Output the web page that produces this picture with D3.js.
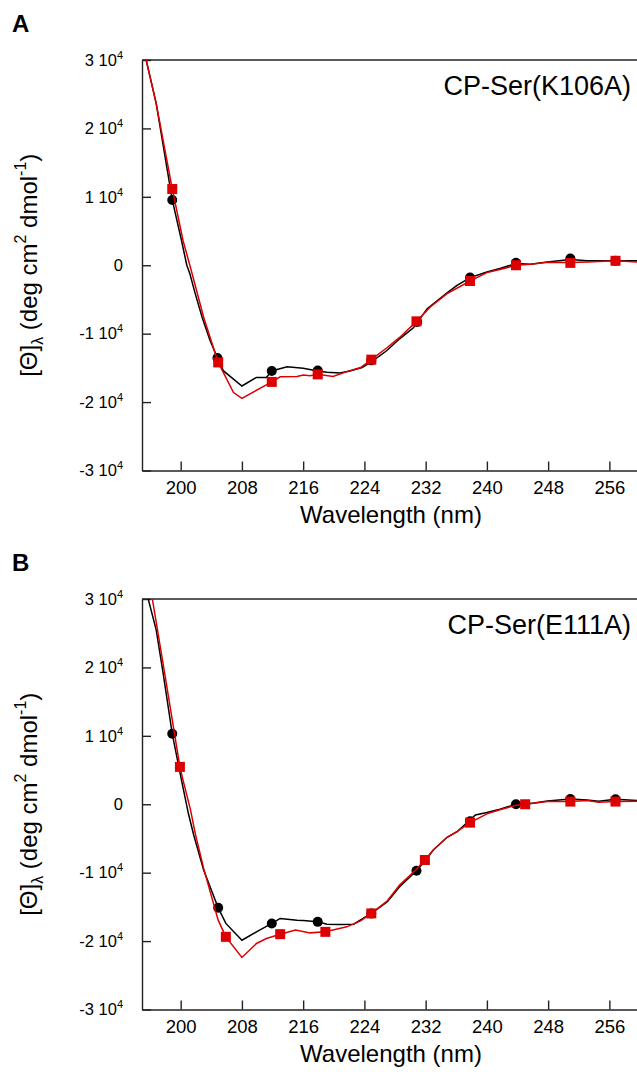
<!DOCTYPE html>
<html lang="en">
<head>
<meta charset="UTF-8">
<title>CD spectra</title>
<script src="https://d3js.org/d3.v7.min.js"></script>
<style>
  body { margin: 0; background: #fff; }
  svg text { font-family: Arial, "Liberation Sans", Helvetica, sans-serif; }
</style>
</head>
<body>
<div id="chart"></div>
<script>
// tick values
const xTicks = [200, 208, 216, 224, 232, 240, 248, 256];
const yTicks = [30000, 20000, 10000, 0, -10000, -20000, -30000];

// panel A, CP-Ser(K106A): [wavelength nm, theta]
const aBlack = [[195, 32400], [196.8, 23650], [198.9, 9550], [200.1, 3650], [200.8, 0], [201.2, -1250],
  [201.9, -4150], [202.8, -7600], [203.8, -10900], [204.8, -13550], [205.6, -15450], [208, -17650],
  [209.9, -16400], [211.2, -16400], [211.9, -15450], [213.9, -14850], [216, -15050], [217.9, -15450],
  [219.1, -15650], [220.8, -15750], [222.1, -15450], [223.7, -14950], [225, -14050], [226.9, -12500],
  [228.6, -10750], [230.4, -9150], [232.2, -6350], [234.8, -4050], [236.1, -2950], [237.8, -1800],
  [240, -980], [241.7, -480], [243.8, 250], [245.7, 150], [247.9, 490], [250.9, 840], [253.1, 640],
  [257, 640], [260, 640]];
const aRed = [[195, 32400], [196.8, 23650], [198.9, 11150], [200.3, 3650], [201.4, -850], [203, -7600],
  [204.9, -14200], [205.9, -16400], [206.9, -18600], [208, -19450], [211.9, -17050], [213, -16300],
  [215.2, -16250], [216, -16050], [216.9, -16150], [217.9, -15950], [219.9, -16250], [221.7, -15550],
  [223.5, -14950], [224.9, -13800], [226.9, -12100], [228.6, -10550], [230.8, -8200], [232.6, -6100],
  [234.8, -4150], [237.8, -2300], [240, -1080], [241.7, -630], [243.8, 0], [245.7, 150], [247.9, 450],
  [250.9, 400], [253.1, 490], [256.8, 640], [260, 440]];
const aBlackMarks = [[198.9, 9550], [204.8, -13550], [211.9, -15450], [217.9, -15400], [224.9, -13900],
  [230.9, -8300], [237.8, -1800], [243.8, 350], [250.9, 980], [256.8, 650]];
const aRedMarks = [[198.9, 11150], [204.9, -14200], [211.9, -17050], [217.9, -15950], [224.9, -13800],
  [230.8, -8200], [237.8, -2300], [243.8, 0], [250.9, 350], [256.8, 650]];

// panel B, CP-Ser(E111A)
const bBlack = [[195, 33300], [196.8, 25500], [197.7, 19200], [198.9, 10300], [200.1, 3560], [201, -1320],
  [201.7, -4500], [203, -9620], [204.9, -15140], [205.9, -17420], [208, -19870], [209.9, -18650],
  [211.9, -17420], [213, -16690], [215.2, -16940], [216, -17000], [217.9, -17190], [219.1, -17530],
  [220.8, -17570], [222.6, -17530], [224.3, -16350], [224.9, -15960], [227, -14260], [228.6, -12060],
  [230.8, -9720], [231.9, -8300], [233, -6690], [234.8, -4830], [236.1, -4010], [238.5, -1570],
  [240, -1200], [241.7, -730], [243.8, 0], [245.5, 80], [247.9, 490], [250.9, 780], [253.1, 630],
  [254.6, 450], [256.8, 730], [260, 540]];
const bRed = [[195, 37400], [196.3, 30000], [197.9, 19200], [199.9, 5460], [200.3, 3560], [201.3, -900],
  [201.9, -4250], [203, -9380], [204.9, -16940], [205.9, -19380], [208, -22400], [209.9, -20350],
  [211.2, -19620], [213, -18990], [215, -18400], [216.9, -18800], [218.9, -18650], [221.7, -17920],
  [223.5, -17050], [224.9, -15960], [227, -14100], [228.6, -11800], [230.8, -9500], [231.9, -8150],
  [233, -6690], [234.8, -4830], [236.1, -4010], [237.8, -2690], [240, -1400], [241.7, -800],
  [243.8, -150], [245, 0], [247.9, 400], [250.9, 390], [253.1, 560], [254.6, 300], [256.8, 390], [260, 450]];
const bBlackMarks = [[198.9, 10300], [204.9, -15140], [211.9, -17420], [217.9, -17190], [224.9, -15960],
  [230.8, -9720], [237.8, -2500], [243.8, 0], [250.9, 780], [256.8, 730]];
const bRedMarks = [[199.9, 5460], [205.9, -19380], [213, -18990], [218.9, -18650], [224.9, -15960],
  [231.9, -8150], [237.8, -2690], [245, 0], [250.9, 390], [256.8, 390]];

const panels = [
  { letter: "A", title: "CP-Ser(K106A)", top: 60, black: aBlack, red: aRed, blackMarks: aBlackMarks, redMarks: aRedMarks },
  { letter: "B", title: "CP-Ser(E111A)", top: 599, black: bBlack, red: bRed, blackMarks: bBlackMarks, redMarks: bRedMarks }
];

const W = 637, H = 1072;
const left = 142, plotH = 410.5;
const RED = "#dd0000";
const AXIS = "#222";

const svg = d3.select("#chart").append("svg")
  .attr("width", W)
  .attr("height", H);

const x = d3.scaleLinear().domain([195, 260]).range([142.4, 640]);
const y = d3.scaleLinear().domain([-30000, 30000]).range([plotH, 0]);

const line = d3.line()
  .x(d => x(d[0]))
  .y(d => y(d[1]));

panels.forEach((p, i) => {
  svg.append("text")
    .attr("x", 12)
    .attr("y", p.top - 28)
    .attr("font-size", 24)
    .attr("font-weight", "bold")
    .text(p.letter);

  const g = svg.append("g").attr("transform", `translate(0,${p.top})`);

  g.append("clipPath").attr("id", "clip" + i)
    .append("rect")
    .attr("x", left).attr("y", 0)
    .attr("width", W - left).attr("height", plotH);

  // frame top
  g.append("line")
    .attr("x1", left).attr("x2", W)
    .attr("y1", 0).attr("y2", 0)
    .attr("stroke", AXIS).attr("stroke-width", 1.4);

  // y axis
  const ya = g.append("g")
    .attr("transform", `translate(${left},0)`)
    .call(d3.axisLeft(y).tickValues(yTicks).tickSize(-9).tickSizeOuter(0).tickPadding(19).tickFormat(""))
    .attr("font-size", 16.5)
    .attr("font-family", null);
  ya.selectAll(".tick text").each(function (d) {
    const t = d3.select(this);
    if (d === 0) { t.text("0"); return; }
    t.append("tspan").text(`${d / 10000} 10`);
    t.append("tspan").attr("dy", -7).attr("font-size", 11).text("4");
  });

  // x axis
  g.append("g")
    .attr("transform", `translate(0,${plotH})`)
    .call(d3.axisBottom(x).tickValues(xTicks).tickSize(-9).tickSizeOuter(0).tickPadding(10.5))
    .attr("font-size", 18.5)
    .attr("font-family", null);

  g.selectAll(".domain, .tick line").attr("stroke", AXIS).attr("stroke-width", 1.4);

  const plot = g.append("g").attr("clip-path", `url(#clip${i})`);

  plot.append("path").datum(p.black)
    .attr("fill", "none").attr("stroke", "#000").attr("stroke-width", 1.5)
    .attr("d", line);
  plot.selectAll(".dot").data(p.blackMarks).join("circle")
    .attr("class", "dot")
    .attr("cx", d => x(d[0])).attr("cy", d => y(d[1]))
    .attr("r", 5).attr("fill", "#000");

  plot.append("path").datum(p.red)
    .attr("fill", "none").attr("stroke", RED).attr("stroke-width", 1.5)
    .attr("d", line);
  plot.selectAll(".sq").data(p.redMarks).join("rect")
    .attr("class", "sq")
    .attr("x", d => x(d[0]) - 5).attr("y", d => y(d[1]) - 5)
    .attr("width", 10).attr("height", 10).attr("fill", RED);

  g.append("text")
    .attr("x", 631).attr("y", 35)
    .attr("text-anchor", "end")
    .attr("font-size", 27)
    .text(p.title);

  g.append("text")
    .attr("x", 391).attr("y", plotH + 52)
    .attr("text-anchor", "middle")
    .attr("font-size", 24)
    .text("Wavelength (nm)");

  const yl = g.append("text")
    .attr("transform", `translate(37,${plotH / 2}) rotate(-90)`)
    .attr("text-anchor", "middle")
    .attr("font-size", 24);
  yl.append("tspan").text("[Θ]");
  yl.append("tspan").attr("dy", 6).attr("font-size", 16).text("λ");
  yl.append("tspan").attr("dy", -6).text(" (deg cm");
  yl.append("tspan").attr("dy", -11).attr("font-size", 16).text("2");
  yl.append("tspan").attr("dy", 11).text(" dmol");
  yl.append("tspan").attr("dy", -11).attr("font-size", 16).text("-1");
  yl.append("tspan").attr("dy", 11).text(")");
});
</script>
</body>
</html>
